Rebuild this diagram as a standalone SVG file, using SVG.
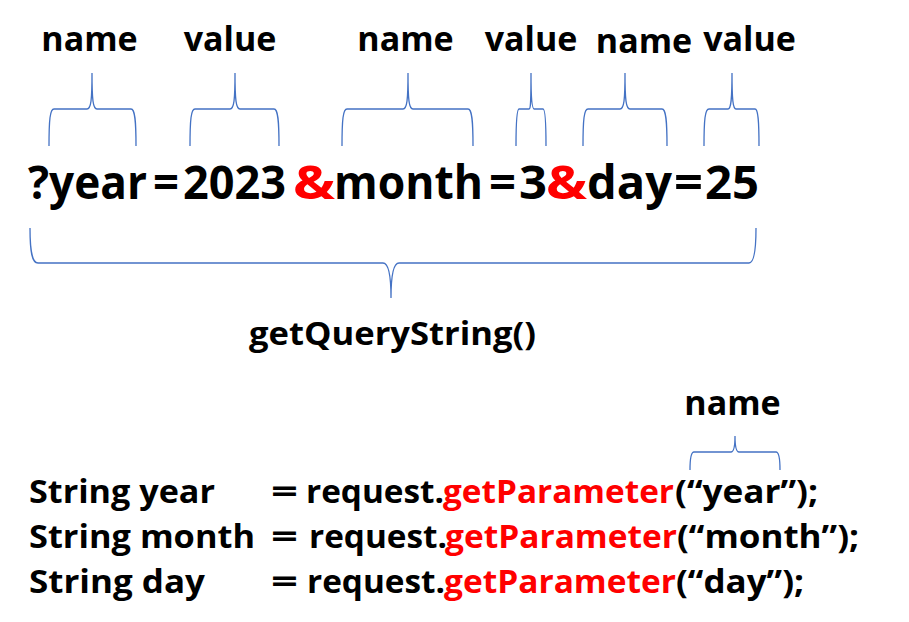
<svg xmlns="http://www.w3.org/2000/svg" width="909" height="622" viewBox="0 0 909 622">
<style>
.t{font-family:"Open Sans","Noto Sans",sans-serif;font-weight:bold;fill:#000}
.lbl{font-size:34px;text-anchor:middle}
.main{font-size:47px}
.code{font-size:33px}
.red{fill:#FF0000}
.br{fill:none;stroke:#4472C4;stroke-width:1.3}
</style>
<rect width="909" height="622" fill="#fff"/>
<g id="labels">
<text class="t lbl" x="89.5" y="51">name</text>
<text class="t lbl" x="230" y="51">value</text>
<text class="t lbl" x="405.5" y="51">name</text>
<text class="t lbl" x="531" y="51">value</text>
<text class="t lbl" x="644" y="53">name</text>
<text class="t lbl" x="749.5" y="51">value</text>
</g>
<g id="connectors">
<path class="br" d="M49,146 C49,120 50,109 54,109 L87,109 C91,109 92,100 92,73 C92,100 93,109 97,109 L131,109 C135,109 136,120 136,146"/>
<path class="br" d="M190,146 C190,120 191,109 195,109 L230,109 C234,109 235,100 235,73 C235,100 236,109 240,109 L274,109 C278,109 279,120 279,146"/>
<path class="br" d="M342,146 C342,120 343,109 347,109 L403,109 C407,109 408,100 408,73 C408,100 409,109 413,109 L468,109 C472,109 473,120 473,146"/>
<path class="br" d="M516,146 C516,120 517,109 519,109 L529,109 C531,109 531,100 531,73 C531,100 532,109 534,109 L543,109 C545,109 546,120 546,146"/>
<path class="br" d="M583,146 C583,120 584,109 588,109 L620,109 C624,109 625,100 625,73 C625,100 626,109 630,109 L662,109 C666,109 667,120 667,146"/>
<path class="br" d="M704,146 C704,120 705,109 709,109 L728,109 C731,109 732,100 732,73 C732,100 733,109 736,109 L755,109 C758,109 759,120 759,146"/>
<path class="br" d="M30,228 C30,252 32,263 38,263 L383,263 C388,263 391,275 391,298 C391,275 394,263 399,263 L749,263 C754,263 756,252 756,228"/>
<path class="br" d="M690,470 C690,458 691,452 694,452 L731,452 C734,452 735,447 735,436 C735,447 736,452 739,452 L776,452 C779,452 780,458 780,470"/>
</g>
<g id="query">
<text class="t main" x="28" y="199" textLength="119" lengthAdjust="spacingAndGlyphs">?year</text>
<text class="t main" x="153" y="199" textLength="26" lengthAdjust="spacingAndGlyphs">=</text>
<text class="t main" x="183" y="199" textLength="103" lengthAdjust="spacingAndGlyphs">2023</text>
<text class="t main red" x="293" y="199" textLength="42" lengthAdjust="spacingAndGlyphs">&amp;</text>
<text class="t main" x="334" y="199" textLength="149" lengthAdjust="spacingAndGlyphs">month</text>
<text class="t main" x="489" y="199" textLength="27" lengthAdjust="spacingAndGlyphs">=</text>
<text class="t main" x="519" y="199" textLength="28" lengthAdjust="spacingAndGlyphs">3</text>
<text class="t main red" x="546" y="199" textLength="41" lengthAdjust="spacingAndGlyphs">&amp;</text>
<text class="t main" x="587" y="199" textLength="85" lengthAdjust="spacingAndGlyphs">day</text>
<text class="t main" x="674" y="199" textLength="29" lengthAdjust="spacingAndGlyphs">=</text>
<text class="t main" x="705" y="199" textLength="54" lengthAdjust="spacingAndGlyphs">25</text>
</g>
<g id="getquery">
<text class="t code" x="249" y="345" textLength="287" lengthAdjust="spacingAndGlyphs" style="font-size:32px">getQueryString()</text>
</g>
<g id="name-bottom">
<text class="t lbl" x="732.5" y="415">name</text>
</g>
<g id="code">
<text class="t code" x="29" y="503" textLength="186" lengthAdjust="spacingAndGlyphs">String year</text>
<text class="t code" x="271" y="503" textLength="27" lengthAdjust="spacingAndGlyphs">=</text>
<text class="t code" x="306" y="503" textLength="138" lengthAdjust="spacingAndGlyphs">request.</text>
<text class="t code red" x="443" y="503" textLength="231" lengthAdjust="spacingAndGlyphs">getParameter</text>
<text class="t code" x="675" y="503" textLength="143" lengthAdjust="spacingAndGlyphs">(“year”);</text>
<text class="t code" x="29" y="548" textLength="226" lengthAdjust="spacingAndGlyphs">String month</text>
<text class="t code" x="271" y="548" textLength="27" lengthAdjust="spacingAndGlyphs">=</text>
<text class="t code" x="309" y="548" textLength="138" lengthAdjust="spacingAndGlyphs">request.</text>
<text class="t code red" x="445" y="548" textLength="232" lengthAdjust="spacingAndGlyphs">getParameter</text>
<text class="t code" x="677" y="548" textLength="182" lengthAdjust="spacingAndGlyphs">(“month”);</text>
<text class="t code" x="29" y="593" textLength="176" lengthAdjust="spacingAndGlyphs">String day</text>
<text class="t code" x="271" y="593" textLength="27" lengthAdjust="spacingAndGlyphs">=</text>
<text class="t code" x="307" y="593" textLength="138" lengthAdjust="spacingAndGlyphs">request.</text>
<text class="t code red" x="444" y="593" textLength="232" lengthAdjust="spacingAndGlyphs">getParameter</text>
<text class="t code" x="676" y="593" textLength="128" lengthAdjust="spacingAndGlyphs">(“day”);</text>
</g>
</svg>
